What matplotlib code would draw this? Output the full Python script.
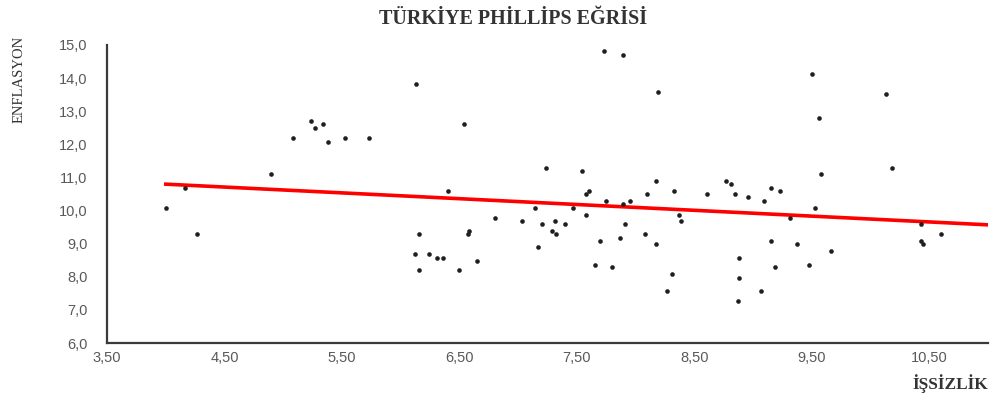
import numpy as np
import matplotlib.pyplot as plt
from matplotlib.ticker import FuncFormatter

# İşsizlik (x) ve enflasyon (y) değerleri
issizlik = [
    5.24, 5.34, 5.27, 5.08, 5.38, 5.53, 5.73, 4.90, 4.16, 4.00, 4.27,
    7.73, 7.89, 8.19, 6.13, 6.54, 7.24, 7.54, 8.17, 6.40, 7.58, 7.60,
    8.10, 8.33, 7.75, 7.89, 7.95, 7.14, 7.47, 8.37, 8.39, 6.80, 7.03,
    7.20, 7.31, 7.40, 7.58, 7.91, 6.16, 6.57, 6.58, 7.29, 7.32, 8.08,
    7.87, 7.70, 8.17, 7.17, 6.12, 6.24, 6.31, 6.36, 6.65, 6.16, 6.50,
    7.65, 7.80, 8.31, 8.27,
    9.50, 10.13, 9.56, 10.18, 9.58, 8.77, 8.81, 9.15, 8.61, 8.85, 9.23,
    8.96, 9.09, 9.53, 9.31, 10.43, 10.60, 10.43, 10.45, 9.15, 9.37, 9.66,
    8.88, 9.19, 9.48, 8.88, 9.07, 8.87,
]
enflasyon = [
    12.71, 12.61, 12.50, 12.19, 12.08, 12.19, 12.19, 11.10, 10.67, 10.09, 9.28,
    14.82, 14.71, 13.59, 13.81, 12.61, 11.28, 11.21, 10.89, 10.58, 10.51, 10.58,
    10.51, 10.58, 10.30, 10.20, 10.30, 10.08, 10.08, 9.87, 9.69, 9.77, 9.69,
    9.59, 9.69, 9.59, 9.87, 9.59, 9.28, 9.28, 9.38, 9.38, 9.28, 9.28,
    9.17, 9.07, 9.00, 8.89, 8.69, 8.69, 8.57, 8.57, 8.47, 8.20, 8.20,
    8.36, 8.29, 8.08, 7.56,
    14.12, 13.53, 12.79, 11.28, 11.10, 10.89, 10.79, 10.68, 10.51, 10.51, 10.58,
    10.40, 10.30, 10.08, 9.77, 9.60, 9.28, 9.07, 9.00, 9.07, 9.00, 8.79,
    8.57, 8.29, 8.36, 7.97, 7.56, 7.27,
]

# Doğrusal eğilim çizgisi (grafikten okunan eğim ve sabit)
egim = -0.1755
sabit = 11.50

plt.rcParams['font.family'] = ['Liberation Sans', 'DejaVu Sans']

fig = plt.figure(figsize=(9.91, 3.98), dpi=100)
ax = fig.add_axes([0.108, 0.138, 0.889, 0.749])

ax.scatter(issizlik, enflasyon, s=11, color='#1f1f1f', marker='o', linewidths=0, zorder=3)

tx = np.array([min(issizlik), 11.0])
ax.plot(tx, egim * tx + sabit, color='#ff0000', linewidth=2.6, zorder=2)

ax.set_xlim(3.5, 11.0)
ax.set_ylim(6.0, 15.0)
ax.set_xticks(np.arange(3.5, 11.0, 1.0))
ax.set_yticks(np.arange(6.0, 15.5, 1.0))
ax.xaxis.set_major_formatter(FuncFormatter(lambda v, p: f'{v:.2f}'.replace('.', ',')))
ax.yaxis.set_major_formatter(FuncFormatter(lambda v, p: f'{v:.1f}'.replace('.', ',')))
ax.tick_params(length=0, labelsize=10.5, labelcolor='#595959')
ax.tick_params(axis='y', pad=14)
ax.tick_params(axis='x', pad=6)

for s in ['top', 'right']:
    ax.spines[s].set_visible(False)
for s in ['left', 'bottom']:
    ax.spines[s].set_color('#3a3a3a')
    ax.spines[s].set_linewidth(1.6)

fig.text(0.518, 0.953, 'TÜRKİYE PHİLLİPS EĞRİSİ', ha='center', va='center',
         family='Liberation Serif', fontweight='bold', fontsize=14.5, color='#333333')
fig.text(0.019, 0.80, 'ENFLASYON', rotation=90, ha='center', va='center',
         family='Liberation Serif', fontsize=10.5, color='#333333')
fig.text(0.997, 0.037, 'İŞSİZLİK', ha='right', va='center',
         family='Liberation Serif', fontweight='bold', fontsize=12.5, color='#333333')

fig.savefig('out.png', dpi=100)
